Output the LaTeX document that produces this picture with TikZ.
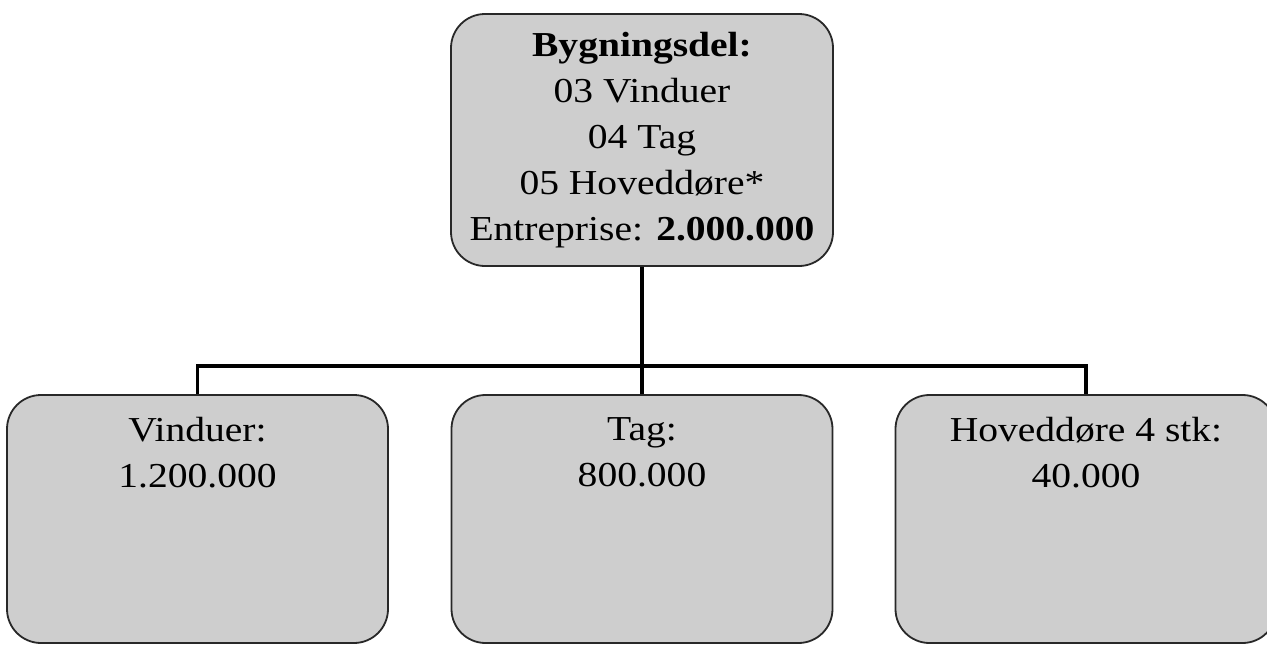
\documentclass[tikz,border=0pt]{standalone}
\usepackage{fontspec}
\setmainfont{Liberation Serif}[FakeStretch=1.13]
\usetikzlibrary{positioning}
\definecolor{boxgray}{RGB}{206,206,206}
\definecolor{edgegray}{RGB}{40,40,40}

\begin{document}
\begin{tikzpicture}[x=1pt,y=-1pt,
  box/.style={draw=edgegray, line width=1.8pt, fill=boxgray, rounded corners=34pt, inner sep=0pt},
  leaf/.style={box, minimum width=381pt, minimum height=248pt},
  boxtext/.style={align=center, inner sep=0pt, font=\fontsize{35}{46}\selectfont},
  conn/.style={line width=3.5pt}]
  \useasboundingbox (0,0) rectangle (1267,645);
  % bygningsdel (top)
  \node[box, boxtext, minimum width=382pt, minimum height=252pt] (del) at (642,140)
    {\textbf{Bygningsdel:}\\03 Vinduer\\04 Tag\\05 Hoveddøre*\\Entreprise: \textbf{2.000.000}};
  % de tre underbokse
  \node[leaf] (vind) at (197.5,519) {};
  \node[leaf] (tag) at (642,519) {};
  \node[leaf] (hoved) at (1086,519) {};
  \node[boxtext, anchor=north] (vindtxt) at ([yshift=-23pt]vind.north) {Vinduer:\\1.200.000};
  \node[boxtext, anchor=north] (tagtxt) at ([yshift=-23pt]tag.north) {Tag:\\800.000};
  \node[boxtext, anchor=north] (hovedtxt) at ([yshift=-23pt]hoved.north) {Hoveddøre 4 stk:\\40.000};
  % forbindelser
  \coordinate (split) at (642,366);
  \draw[conn] (del.south) -- (tag.north);
  \draw[conn] (vind.north) |- (split) -| (hoved.north);
\end{tikzpicture}
\end{document}
